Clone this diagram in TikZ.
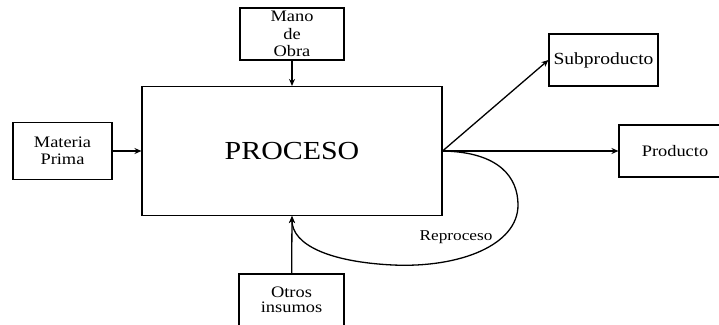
\documentclass[tikz,border=0pt]{standalone}
\usepackage{fontspec}
\setmainfont[FakeStretch=1.15]{Liberation Serif}
\usetikzlibrary{arrows.meta}

\begin{document}
\begin{tikzpicture}[x=1pt, y=-1pt,
          box/.style={rectangle, draw, line width=1.1pt, inner sep=0pt,
                      align=center, font=\fontsize{16}{17.5}\selectfont},
          arr/.style={-{Stealth[length=7pt, width=6pt]}, draw=black, line width=1.3pt}
        ]
        \useasboundingbox (0,0) rectangle (719,324);

        % Process
        \node[box, minimum width=300pt, minimum height=129pt,
              font=\fontsize{26}{30}\selectfont]
              (proc) at (292, 151) {PROCESO};

        % Inputs
        \node[box, minimum width=104pt, minimum height=52pt]
              (mano) at (292, 34) {Mano\\de\\Obra};
        \node[box, minimum width=99pt, minimum height=57pt]
              (mat) at (62.5, 151) {Materia\\Prima};
        \node[box, minimum width=105pt, minimum height=52pt,
              font=\fontsize{16}{15.5}\selectfont]
              (otros) at (291.5, 300) {Otros\\insumos};

        % Outputs
        \node[box, minimum width=109pt, minimum height=52pt,
              font=\fontsize{17}{19}\selectfont]
              (sub) at (603.5, 60) {Subproducto};
        \node[box, minimum width=112pt, minimum height=52pt]
              (prod) at (675, 151) {Producto};

        \draw[arr] (mano)  -- (proc.north);
        \draw[arr] (mat)   -- (proc.west);
        \draw[arr] (otros) -- (proc.south);
        \draw[arr] (proc.east) -- (sub.west);
        \draw[arr] (proc.east) -- (prod.west);

        % Reprocess loop
        \draw[arr] (proc.east) .. controls (500,152) and (518,178) .. (518,205)
              .. controls (518,245) and (460,268) .. (393,265)
              .. controls (330,262) and (292,245) .. (proc.south);
        \node[font=\fontsize{15}{17}\selectfont] (rep) at (456, 237) {Reproceso};
      \end{tikzpicture}
\end{document}
